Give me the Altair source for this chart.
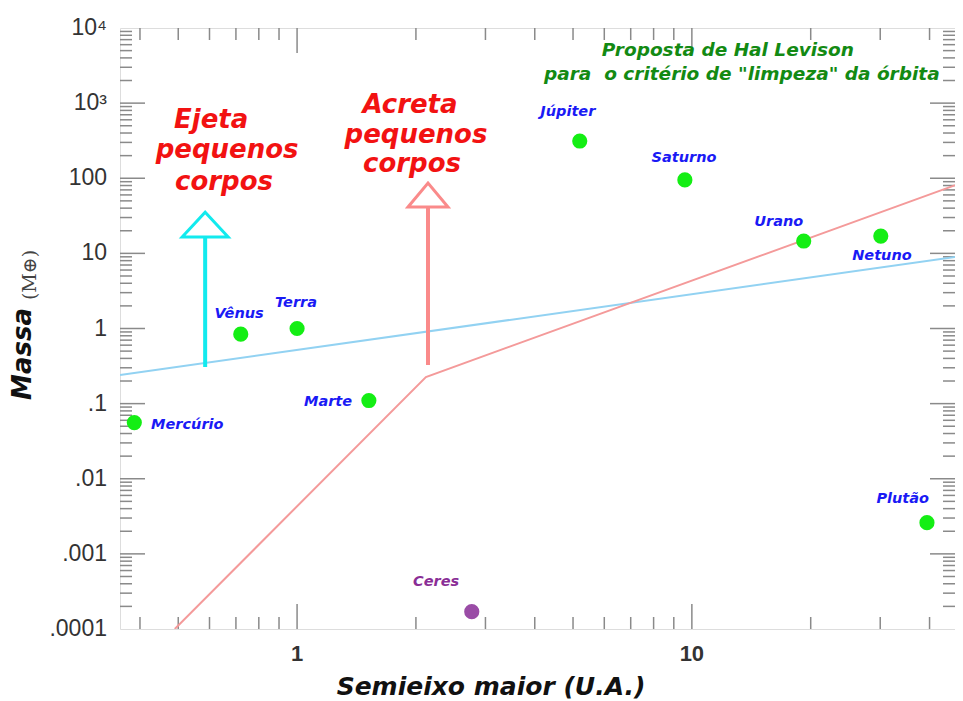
import altair as alt
import pandas as pd

# ---------------- data ----------------
planet_names = ["Mercúrio", "Vênus", "Terra", "Marte", "Ceres",
                "Júpiter", "Saturno", "Urano", "Netuno", "Plutão"]
planet_a = [0.387, 0.72, 1.0, 1.52, 2.77, 5.2, 9.6, 19.2, 30.1, 39.4]
planet_m = [0.056, 0.84, 1.0, 0.11, 0.00017, 313, 95, 14.6, 17.0, 0.0026]
planet_kind = ["planeta", "planeta", "planeta", "planeta", "Ceres",
               "planeta", "planeta", "planeta", "planeta", "planeta"]
label_a = [0.527, 0.713, 0.994, 1.198, 2.25, 4.85, 9.55, 16.6, 30.3, 34.2]
label_m = [0.0519, 1.56, 2.18, 0.105, 0.000423, 762, 186, 26.2, 9.23, 0.00538]

# Levison criterion lines
red_a = [0.49, 2.12, 48]
red_m = [0.0001, 0.226, 86]
blue_a = [0.356, 48]
blue_m = [0.24, 9.2]

# arrows
arrow_names = ["ejeta", "acreta"]
arrow_a = [0.585, 2.146]
arrow_from = [0.307, 0.327]
arrow_to = [16.5, 41.4]
arrow_head = [24.2, 59.8]

# annotations (one entry per text line)
red_lines = ["Ejeta", "pequenos", "corpos", "Acreta", "pequenos", "corpos"]
red_text_a = [0.606, 0.665, 0.653, 1.932, 2.001, 1.955]
red_text_m = [466.6, 186.0, 69.8, 738.9, 294.6, 121.1]
green_lines = ["Proposta de Hal Levison", "para \u00a0o critério de \"limpeza\" da órbita"]
green_a = [12.34, 13.38]
green_m = [4240, 2032]

# axes
x_domain = [0.356, 46.4]
y_domain = [0.0001, 10000]
x_tick_values = [1, 10]
x_tick_labels = ["1", "10"]
y_tick_values = [0.0001, 0.001, 0.01, 0.1, 1, 10, 100, 1000, 10000]
y_tick_labels = [".0001", ".001", ".01", ".1", "1", "10", "100", "10³", "10⁴"]
x_minor = [0.4, 0.5, 0.6, 0.7, 0.8, 0.9, 2, 3, 4, 5, 6, 7, 8, 9, 20, 30, 40]
x_major = [1, 10]
y_major = [0.001, 0.01, 0.1, 1, 10, 100, 1000]
y_minor = [m * 10.0 ** k for k in range(-4, 4) for m in range(2, 10)]

x_title = "Semieixo maior (U.A.)"
y_title = "Massa"
y_unit = "(M⊕)"

W, H = 835, 601

xs = alt.Scale(type="log", domain=x_domain, nice=False)
ys = alt.Scale(type="log", domain=y_domain, nice=False)


def X(field):
    return alt.X(field, type="quantitative", scale=xs, axis=None)


def Y(field):
    return alt.Y(field, type="quantitative", scale=ys, axis=None)


planets = pd.DataFrame({"a": planet_a, "m": planet_m, "kind": planet_kind,
                        "name": planet_names, "la": label_a, "lm": label_m})
is_ceres = alt.datum.kind == "Ceres"
not_ceres = alt.datum.kind != "Ceres"

points_green = alt.Chart(planets).transform_filter(not_ceres).mark_circle(
    size=230, opacity=1, color="#14ee14").encode(x=X("a"), y=Y("m"))
points_ceres = alt.Chart(planets).transform_filter(is_ceres).mark_circle(
    size=230, opacity=1, color="#9a4ca6").encode(x=X("a"), y=Y("m"))

label_style = dict(font="DejaVu Sans", fontSize=14.5, fontWeight="bold",
                   fontStyle="italic", align="center", baseline="middle")
labels_blue = alt.Chart(planets).transform_filter(not_ceres).mark_text(
    color="#1a1af5", **label_style).encode(x=X("la"), y=Y("lm"), text="name:N")
labels_ceres = alt.Chart(planets).transform_filter(is_ceres).mark_text(
    color="#8a2e96", **label_style).encode(x=X("la"), y=Y("lm"), text="name:N")

red_line = alt.Chart(pd.DataFrame({"a": red_a, "m": red_m})).mark_line(
    color="#f49a9a", strokeWidth=2, clip=True).encode(x=X("a"), y=Y("m"))
blue_line = alt.Chart(pd.DataFrame({"a": blue_a, "m": blue_m})).mark_line(
    color="#92d2f2", strokeWidth=2, clip=True).encode(x=X("a"), y=Y("m"))

arrows = pd.DataFrame({"name": arrow_names, "a": arrow_a, "m": arrow_from,
                       "m2": arrow_to, "h": arrow_head})
cyan, salmon = "#12eaee", "#fa8a8a"
ej = alt.datum.name == "ejeta"
ac = alt.datum.name == "acreta"

shaft_ejeta = alt.Chart(arrows).transform_filter(ej).mark_rule(
    strokeWidth=4, color=cyan).encode(x=X("a"), y=Y("m"), y2="m2:Q")
shaft_acreta = alt.Chart(arrows).transform_filter(ac).mark_rule(
    strokeWidth=4, color=salmon).encode(x=X("a"), y=Y("m"), y2="m2:Q")
head_ejeta = alt.Chart(arrows).transform_filter(ej).mark_point(
    shape="M-1,0.54L0,-0.54L1,0.54Z", size=2116, filled=False, strokeWidth=3,
    opacity=1, color=cyan).encode(x=X("a"), y=Y("h"))
head_acreta = alt.Chart(arrows).transform_filter(ac).mark_point(
    shape="M-1,0.6L0,-0.6L1,0.6Z", size=1600, filled=False, strokeWidth=3,
    opacity=1, color=salmon).encode(x=X("a"), y=Y("h"))

red_text = alt.Chart(pd.DataFrame({"a": red_text_a, "m": red_text_m, "t": red_lines})).mark_text(
    font="DejaVu Sans", fontSize=26, fontWeight="bold", fontStyle="italic",
    align="center", baseline="alphabetic", color="#f21212"
).encode(x=X("a"), y=Y("m"), text="t:N")

green_text = alt.Chart(pd.DataFrame({"a": green_a, "m": green_m, "t": green_lines})).mark_text(
    font="DejaVu Sans", fontSize=18.5, fontWeight="bold", fontStyle="italic",
    align="center", baseline="alphabetic", color="#138a13"
).encode(x=X("a"), y=Y("m"), text="t:N")

# tick labels, drawn through the scales
y_labels = alt.Chart(pd.DataFrame({"m": y_tick_values, "t": y_tick_labels})).mark_text(
    font="Liberation Sans", fontSize=23, color="#333333", align="right", baseline="middle"
).encode(y=Y("m"), x=alt.value(-13), text="t:N")
x_labels = alt.Chart(pd.DataFrame({"a": x_tick_values, "t": x_tick_labels})).mark_text(
    font="Liberation Sans", fontSize=22, fontWeight="bold", color="#333333",
    align="center", baseline="top"
).encode(x=X("a"), y=alt.value(H + 15), text="t:N")

one = alt.Data(values=[{}])
x_title_mark = alt.Chart(one).mark_text(
    font="DejaVu Sans", fontSize=25, fontWeight="bold", fontStyle="italic",
    color="#111111", align="center", baseline="middle"
).encode(x=alt.value(371), y=alt.value(H + 58), text=alt.value(x_title))
y_title_mark = alt.Chart(one).mark_text(
    font="DejaVu Sans", fontSize=26, fontWeight="bold", fontStyle="italic",
    color="#111111", align="center", baseline="middle", angle=270
).encode(x=alt.value(-97), y=alt.value(326), text=alt.value(y_title))
unit_text = alt.Chart(one).mark_text(
    font="DejaVu Serif", fontSize=19, color="#444444", angle=270,
    align="center", baseline="middle"
).encode(x=alt.value(-90), y=alt.value(247), text=alt.value(y_unit))

# inward ticks on all four sides
tick_color = "#8a8a8a"


def xticks(vals, length):
    df = pd.DataFrame({"a": vals})
    bottom = alt.Chart(df).mark_rule(color=tick_color, strokeWidth=1.5).encode(
        x=X("a"), y=alt.value(H), y2=alt.value(H - length))
    top = alt.Chart(df).mark_rule(color=tick_color, strokeWidth=1.5).encode(
        x=X("a"), y=alt.value(0), y2=alt.value(length))
    return [bottom, top]


def yticks(vals, length):
    df = pd.DataFrame({"m": vals})
    left = alt.Chart(df).mark_rule(color=tick_color, strokeWidth=1.5).encode(
        y=Y("m"), x=alt.value(0), x2=alt.value(length))
    right = alt.Chart(df).mark_rule(color=tick_color, strokeWidth=1.5).encode(
        y=Y("m"), x=alt.value(W), x2=alt.value(W - length))
    return [left, right]


tick_layers = (xticks(x_minor, 12) + xticks(x_major, 25)
               + yticks(y_minor, 12) + yticks(y_major, 25))

chart = alt.layer(
    *tick_layers, blue_line, red_line,
    shaft_ejeta, shaft_acreta, head_ejeta, head_acreta,
    points_green, points_ceres, labels_blue, labels_ceres,
    red_text, green_text, y_labels, x_labels,
    x_title_mark, y_title_mark, unit_text
).properties(
    width=W, height=H,
    autosize=alt.AutoSizeParams(type="none"),
    padding={"left": 112, "top": 20, "right": 0, "bottom": 72},
).configure_view(
    stroke="#999999", strokeWidth=1.5
).configure(background="white")

chart.save("out.html", embed_options={"renderer": "svg", "actions": False})
